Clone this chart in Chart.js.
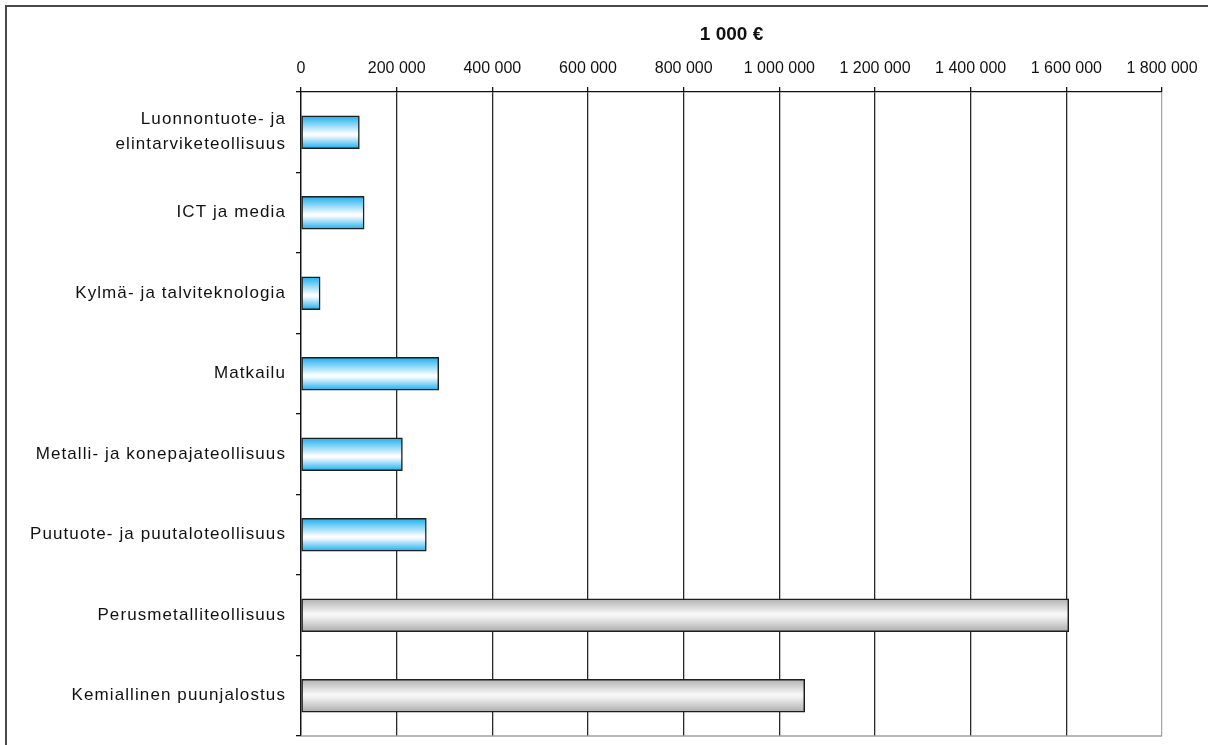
<!DOCTYPE html>
<html>
<head>
<meta charset="utf-8">
<script src="https://cdn.jsdelivr.net/npm/chart.js@4/dist/chart.umd.min.js"></script>
<style>
  html, body { margin: 0; padding: 0; background: #fff; }
  #wrap { width: 1208px; height: 745px; position: relative; }
</style>
</head>
<body>
<div id="wrap"><canvas id="c" width="1208" height="745"></canvas></div>
<script>
// ---- data ----
const categories = [
  ['Luonnontuote- ja', 'elintarviketeollisuus'],
  'ICT ja media',
  'Kylmä- ja talviteknologia',
  'Matkailu',
  'Metalli- ja konepajateollisuus',
  'Puutuote- ja puutaloteollisuus',
  'Perusmetalliteollisuus',
  'Kemiallinen puunjalostus'
];
const values = [122000, 132000, 40000, 288000, 212000, 262000, 1605000, 1053000];
const grayFrom = 6; // last two categories drawn in gray
const axisTitle = '1 000 €';
const xMin = 0, xMax = 1800000, xStep = 200000;

const fmt = v => String(v).replace(/\B(?=(\d{3})+(?!\d))/g, ' ');
const BAR = 33;

function barFill(c) {
  const chart = c.chart;
  const ys = chart.scales && chart.scales.y;
  const gray = c.dataIndex >= grayFrom;
  const plain = gray ? '#dcdcdc' : '#8fd6f5';
  if (c.type !== 'data' || !ys) return plain;
  const cy = ys.getPixelForValue(c.dataIndex);
  if (!isFinite(cy)) return plain;
  const g = chart.ctx.createLinearGradient(0, cy - BAR / 2, 0, cy + BAR / 2);
  if (gray) {
    g.addColorStop(0, '#b0b0b0');
    g.addColorStop(0.45, '#f7f7f7');
    g.addColorStop(0.55, '#f2f2f2');
    g.addColorStop(1, '#acacac');
  } else {
    g.addColorStop(0, '#1aaeee');
    g.addColorStop(0.55, '#ffffff');
    g.addColorStop(0.62, '#f0f9ff');
    g.addColorStop(1, '#1aaeee');
  }
  return g;
}

const framePlugin = {
  id: 'frame',
  beforeDraw(chart) {
    const ys = chart.scales.y;
    if (ys && !ys._lsPatched) {
      const orig = ys.drawLabels;
      ys.drawLabels = function (area) {
        const ctx = this.ctx;
        ctx.save();
        try { ctx.letterSpacing = '1.1px'; } catch (e) {}
        orig.call(this, area);
        ctx.restore();
      };
      ys._lsPatched = true;
    }
  },
  afterDraw(chart) {
    const ctx = chart.ctx;
    const a = chart.chartArea;
    ctx.save();
    ctx.strokeStyle = '#a0a0a0';
    ctx.lineWidth = 1.5;
    ctx.beginPath();
    ctx.moveTo(a.left, a.bottom);
    ctx.lineTo(a.right, a.bottom);
    ctx.stroke();
    ctx.strokeStyle = '#4a4a4a';
    ctx.lineWidth = 2;
    ctx.beginPath();
    ctx.moveTo(6, chart.height);
    ctx.lineTo(6, 6);
    ctx.lineTo(chart.width, 6);
    ctx.stroke();
    ctx.restore();
  }
};

const chart = new Chart(document.getElementById('c'), {
  type: 'bar',
  data: {
    labels: categories,
    datasets: [{
      data: values,
      backgroundColor: barFill,
      borderColor: '#1e1e1e',
      borderWidth: 1.5,
      borderSkipped: false,
      barThickness: BAR
    }]
  },
  options: {
    indexAxis: 'y',
    responsive: false,
    animation: false,
    layout: { padding: { left: 0, right: 46, top: 0, bottom: 9 } },
    plugins: { legend: { display: false }, tooltip: { enabled: false } },
    scales: {
      x: {
        position: 'top',
        min: xMin, max: xMax,
        afterFit(s) { s.height = 92; },
        ticks: {
          stepSize: xStep,
          callback: v => fmt(v),
          font: { family: '"Liberation Sans", Arial, sans-serif', size: 16 },
          color: '#111',
          padding: 9,
          maxRotation: 0
        },
        grid: {
          color: c => (c.index === 9 ? '#a8a8a8' : '#2a2a2a'),
          tickColor: '#111',
          tickLength: 5,
          lineWidth: 1.3
        },
        border: { color: '#111', width: 1.3 },
        title: {
          display: true,
          text: axisTitle,
          font: { family: '"Liberation Sans", Arial, sans-serif', size: 19, weight: 'bold' },
          color: '#111',
          padding: { top: 23, bottom: 0 }
        }
      },
      y: {
        afterFit(s) { s.width = 301; s.paddingTop = 0; s.paddingBottom = 0; },
        ticks: {
          font: { family: '"Liberation Sans", Arial, sans-serif', size: 17, lineHeight: 1.47 },
          color: '#111',
          padding: 10
        },
        grid: {
          drawOnChartArea: false,
          drawTicks: true,
          tickLength: 5,
          color: '#111',
          lineWidth: 1.3,
          offset: true
        },
        border: { color: '#111', width: 1.3 }
      }
    }
  },
  plugins: [framePlugin]
});
chart.update();
</script>
</body>
</html>
